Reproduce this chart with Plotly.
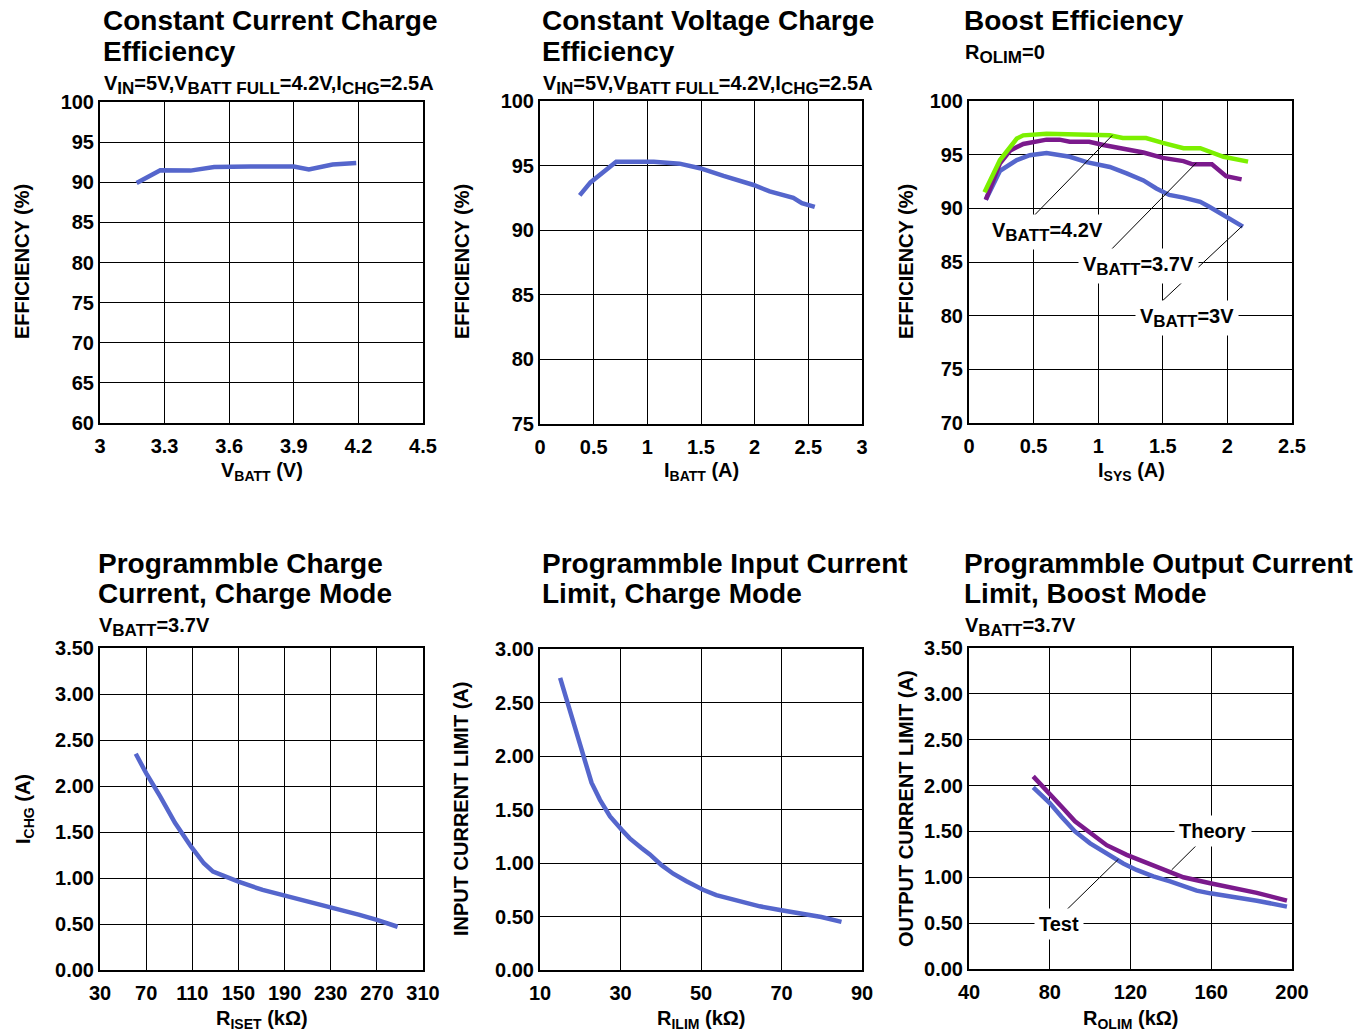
import plotly.graph_objects as go

W, H = 1369, 1034

# ---------------- data ----------------
cc_vbatt = [3.17, 3.28, 3.42, 3.53, 3.70, 3.90, 3.97, 4.08, 4.19]
cc_eff = [89.9, 91.5, 91.45, 91.9, 91.95, 91.95, 91.6, 92.2, 92.4]

cv_ibatt = [0.37, 0.47, 0.71, 1.06, 1.30, 1.49, 1.71, 1.99, 2.14, 2.36, 2.44, 2.56]
cv_eff = [92.7, 93.7, 95.3, 95.3, 95.15, 94.8, 94.2, 93.5, 93.0, 92.5, 92.1, 91.8]

boost_isys_42 = [0.12, 0.24, 0.37, 0.42, 0.60, 0.91, 1.09, 1.19, 1.37, 1.50, 1.66, 1.79, 1.86, 1.97, 2.16]
boost_eff_42 = [91.5, 94.5, 96.5, 96.8, 96.95, 96.9, 96.8, 96.55, 96.55, 96.1, 95.6, 95.6, 95.25, 94.8, 94.35]

boost_isys_37 = [0.13, 0.24, 0.32, 0.42, 0.60, 0.70, 0.78, 0.93, 1.04, 1.19, 1.35, 1.50, 1.66, 1.73, 1.88, 1.99, 2.11]
boost_eff_37 = [90.8, 94.2, 95.4, 96.0, 96.4, 96.4, 96.2, 96.2, 95.9, 95.6, 95.2, 94.7, 94.4, 94.1, 94.1, 93.0, 92.7]

boost_isys_30 = [0.13, 0.24, 0.37, 0.47, 0.60, 0.78, 0.91, 1.09, 1.22, 1.35, 1.45, 1.55, 1.66, 1.79, 1.86, 1.97, 2.12]
boost_eff_30 = [90.8, 93.5, 94.5, 94.95, 95.15, 94.8, 94.3, 93.85, 93.25, 92.6, 91.85, 91.25, 91.0, 90.6, 90.15, 89.4, 88.3]

iset_r = [61, 70, 82, 95, 109, 120, 128, 150, 171, 192, 229, 255, 270, 288]
iset_i = [2.35, 2.14, 1.89, 1.60, 1.34, 1.16, 1.07, 0.96, 0.87, 0.805, 0.69, 0.60, 0.545, 0.47]

ilim_r = [15, 16.6, 18.7, 20.75, 22.8, 24.9, 27.4, 30.3, 32.3, 35.2, 37.3, 40.2, 43.1, 46.4,
          50.5, 53.8, 58, 64.6, 69.6, 76.2, 79.9, 84.9]
ilim_i = [2.73, 2.53, 2.26, 2.0, 1.75, 1.59, 1.435, 1.31, 1.23, 1.14, 1.08, 0.98, 0.90, 0.83,
          0.75, 0.70, 0.655, 0.595, 0.56, 0.515, 0.495, 0.45]

olim_r_theory = [71.8, 80, 86.7, 92.5, 100, 108.2, 118.1, 128, 138, 146.2, 159.5, 171, 182.6, 197.5]
olim_i_theory = [2.10, 1.915, 1.75, 1.61, 1.48, 1.35, 1.245, 1.16, 1.065, 1.00, 0.935, 0.88, 0.83, 0.745]
olim_r_test = [71.8, 80, 85.8, 92.5, 100, 108.2, 116.4, 123, 131.3, 139.6, 146.2, 152.8, 159.5, 171, 182.6, 197.5]
olim_i_test = [1.98, 1.81, 1.66, 1.50, 1.37, 1.26, 1.15, 1.08, 1.01, 0.955, 0.90, 0.855, 0.825, 0.79, 0.745, 0.68]


def S(t):
    """subscript with slightly larger size than plotly's default"""
    return "<sub><span style='font-size:17px'>%s</span></sub>" % t


# callout labels: (text, text_x, text_y, line_x0, line_y0, line_x1, line_y1)
boost_labels = [
    ("V" + S("BATT") + "=4.2V", 0.61, 87.8, 0.457, 88.75, 1.109, 96.8),
    ("V" + S("BATT") + "=3.7V", 1.31, 84.6, 0.998, 84.9, 1.76, 94.24),
    ("V" + S("BATT") + "=3V", 1.69, 79.8, 1.45, 80.85, 2.115, 88.35),
]
olim_labels = [
    ("Theory", 160.8, 1.51, 156.2, 1.425, 140.4, 1.081),
    ("Test", 84.7, 0.49, 87.5, 0.627, 114.0, 1.197),
]

BLUE = "#5566CC"
PURPLE = "#7B1A8C"
GREEN = "#7CF000"
FONT = "Liberation Sans, Arial, sans-serif"

# ---------------- layout helpers ----------------
panels = [
    # (x0px, x1px, y0px(top), y1px(bottom), xrange, xdtick, yrange, ydtick, yfmt)
    (100, 423, 102, 423, [3, 4.5], 0.3, [60, 100], 5, None),
    (540, 862, 101, 424, [0, 3], 0.5, [75, 100], 5, None),
    (969, 1292, 101, 423, [0, 2.5], 0.5, [70, 100], 5, None),
    (100, 423, 648, 970, [30, 310], 40, [0, 3.5], 0.5, ".2f"),
    (540, 862, 649, 970, [10, 90], 20, [0, 3], 0.5, ".2f"),
    (969, 1292, 648, 969, [40, 200], 40, [0, 3.5], 0.5, ".2f"),
]

fig = go.Figure()
layout = dict(width=W, height=H, margin=dict(l=0, r=0, t=0, b=0),
              paper_bgcolor="white", plot_bgcolor="white", showlegend=False,
              font=dict(family=FONT, color="black"))

for i, (x0, x1, t, b, xr, xd, yr, yd, yf) in enumerate(panels, start=1):
    sfx = "" if i == 1 else str(i)
    common = dict(showgrid=True, gridcolor="black", gridwidth=1, showline=True, mirror=True,
                  linecolor="black", linewidth=2, zeroline=False, ticks="",
                  tickfont=dict(family=FONT, size=20, color="black", weight="bold"),
                  automargin=False)
    layout["xaxis" + sfx] = dict(domain=[x0 / W, x1 / W], range=xr, tick0=xr[0], dtick=xd,
                                 anchor="y" + sfx, ticklabelstandoff=4, **common)
    ya = dict(domain=[1 - b / H, 1 - t / H], range=yr, tick0=yr[0], dtick=yd,
              anchor="x" + sfx, ticklabelstandoff=0, **common)
    if yf:
        ya["tickformat"] = yf
    layout["yaxis" + sfx] = ya

fig.update_layout(**layout)


def line(x, y, color, ax):
    sfx = "" if ax == 1 else str(ax)
    fig.add_trace(go.Scatter(x=x, y=y, mode="lines", line=dict(color=color, width=4.5),
                             xaxis="x" + sfx, yaxis="y" + sfx, hoverinfo="skip"))


line(cc_vbatt, cc_eff, BLUE, 1)
line(cv_ibatt, cv_eff, BLUE, 2)
line(boost_isys_30, boost_eff_30, BLUE, 3)
line(boost_isys_37, boost_eff_37, PURPLE, 3)
line(boost_isys_42, boost_eff_42, GREEN, 3)
line(iset_r, iset_i, BLUE, 4)
line(ilim_r, ilim_i, BLUE, 5)
line(olim_r_test, olim_i_test, BLUE, 6)
line(olim_r_theory, olim_i_theory, PURPLE, 6)

ann = []
shapes = []


def ptext(text, xpx, ypx, size, xanchor="left", angle=0):
    ann.append(dict(text="<b>%s</b>" % text, x=xpx / W, y=1 - ypx / H,
                    xref="paper", yref="paper", xanchor=xanchor, yanchor="middle",
                    showarrow=False, textangle=angle,
                    font=dict(family=FONT, size=size, color="black")))


# titles
TS = 28
ptext("Constant Current Charge", 101, 21, TS)
ptext("Efficiency", 101, 51, TS)
ptext("Constant Voltage Charge", 540, 21, TS)
ptext("Efficiency", 540, 51, TS)
ptext("Boost Efficiency", 962, 21, TS)
ptext("Programmble Charge", 96, 563, TS)
ptext("Current, Charge Mode", 96, 593, TS)
ptext("Programmble Input Current", 540, 563, TS)
ptext("Limit, Charge Mode", 540, 593, TS)
ptext("Programmble Output Current", 962, 563, TS)
ptext("Limit, Boost Mode", 962, 593, TS)

# subtitles
SS = 20
sub_cond = "V" + S("IN") + "=5V,V" + S("BATT FULL") + "=4.2V,I" + S("CHG") + "=2.5A"
ptext(sub_cond, 102, 85, SS)
ptext(sub_cond, 541, 85, SS)
ptext("R" + S("OLIM") + "=0", 963, 54, SS)
ptext("V" + S("BATT") + "=3.7V", 97, 627, SS)
ptext("V" + S("BATT") + "=3.7V", 963, 627, SS)

# axis titles
AS = 20
ptext("V<sub>BATT</sub> (V)", 262, 471, AS, xanchor="center")
ptext("I<sub>BATT</sub> (A)", 701, 471, AS, xanchor="center")
ptext("I<sub>SYS</sub> (A)", 1131, 471, AS, xanchor="center")
ptext("R<sub>ISET</sub> (k\u03a9)", 262, 1019, AS, xanchor="center")
ptext("R<sub>ILIM</sub> (k\u03a9)", 701, 1019, AS, xanchor="center")
ptext("R<sub>OLIM</sub> (k\u03a9)", 1131, 1019, AS, xanchor="center")
ptext("EFFICIENCY (%)", 22, 262, AS, xanchor="center", angle=-90)
ptext("EFFICIENCY (%)", 462, 262, AS, xanchor="center", angle=-90)
ptext("EFFICIENCY (%)", 906, 262, AS, xanchor="center", angle=-90)
ptext("I<sub>CHG</sub> (A)", 24, 809, AS, xanchor="center", angle=-90)
ptext("INPUT CURRENT LIMIT (A)", 461, 809, AS, xanchor="center", angle=-90)
ptext("OUTPUT CURRENT LIMIT (A)", 906, 809, AS, xanchor="center", angle=-90)

# callouts
for ax, labels in (("3", boost_labels), ("6", olim_labels)):
    for lab, tx, ty, lx0, ly0, lx1, ly1 in labels:
        shapes.append(dict(type="line", xref="x" + ax, yref="y" + ax, x0=lx0, y0=ly0,
                           x1=lx1, y1=ly1, line=dict(color="black", width=1)))
        ann.append(dict(text="<b>%s</b>" % lab, x=tx, y=ty, xref="x" + ax, yref="y" + ax,
                        showarrow=False, bgcolor="white", borderpad=4, xanchor="center",
                        yanchor="middle", font=dict(family=FONT, size=20, color="black")))

fig.update_layout(annotations=ann, shapes=shapes)
fig.write_html("out.html", config={"displayModeBar": False},
               post_script="document.body.style.margin='0';document.body.style.overflow='hidden';")
